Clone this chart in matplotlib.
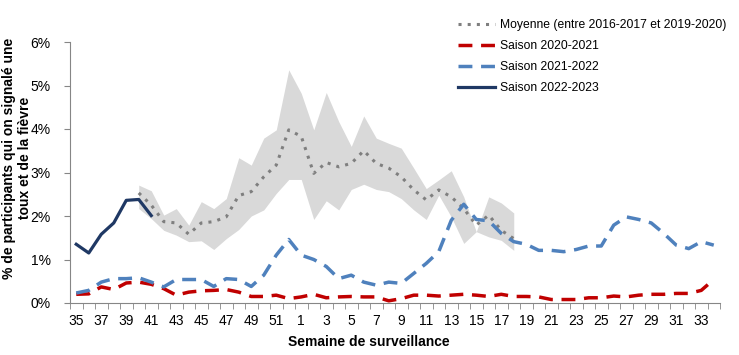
import matplotlib.pyplot as plt
from matplotlib.ticker import FuncFormatter

plt.rcParams['font.family'] = ['Liberation Sans', 'DejaVu Sans']

weeks = list(range(35, 53)) + list(range(1, 35))

s2022 = [1.35, 1.15, 1.58, 1.84, 2.36, 2.38, 2.01]

mean_weeks = list(range(40, 53)) + list(range(1, 19))
mean = [2.53, 2.25, 1.87, 1.84, 1.58, 1.84, 1.87, 1.98, 2.47, 2.56, 2.9, 3.17, 3.98,
        3.83, 2.98, 3.23, 3.13, 3.21, 3.5, 3.21, 3.1, 2.9, 2.6, 2.37, 2.6, 2.44,
        2.17, 1.79, 2.02, 1.67, 1.48]
upper = [2.71, 2.58, 2.02, 2.17, 1.79, 2.33, 2.17, 2.4, 3.34, 3.17, 3.79, 3.98, 5.36,
         4.82, 3.98, 4.84, 4.17, 3.6, 4.3, 3.79, 3.67, 3.56, 3.1, 2.63, 2.83, 3.04,
         2.44, 1.64, 2.44, 2.3, 2.07]
lower = [2.17, 1.94, 1.67, 1.56, 1.41, 1.43, 1.23, 1.48, 1.69, 2.0, 2.14, 2.52, 2.84,
         2.84, 1.92, 2.35, 2.14, 2.61, 2.73, 2.61, 2.56, 2.4, 2.14, 1.92, 2.48, 1.98,
         1.37, 1.64, 1.52, 1.44, 1.21]

s2021 = [0.23, 0.29, 0.48, 0.56, 0.56, 0.58, 0.48, 0.37, 0.54, 0.54, 0.54, 0.38, 0.56,
         0.54, 0.38, 0.64, 1.1, 1.46, 1.1, 1.0, 0.84, 0.56, 0.64, 0.48, 0.41, 0.48,
         0.45, 0.68, 0.91, 1.18, 1.9, 2.27, 1.92, 1.89, 1.6, 1.41, 1.35, 1.21, 1.21,
         1.18, 1.23, 1.31, 1.31, 1.79, 1.98, 1.92, 1.84, 1.6, 1.33, 1.25, 1.41, 1.33]

s2020 = [0.2, 0.21, 0.37, 0.31, 0.46, 0.48, 0.43, 0.33, 0.18, 0.25, 0.28, 0.29, 0.31,
         0.25, 0.15, 0.15, 0.18, 0.1, 0.14, 0.2, 0.12, 0.14, 0.15, 0.14, 0.14, 0.05,
         0.1, 0.18, 0.18, 0.16, 0.18, 0.2, 0.18, 0.15, 0.2, 0.15, 0.15, 0.14, 0.08,
         0.08, 0.08, 0.12, 0.12, 0.16, 0.14, 0.18, 0.2, 0.2, 0.22, 0.22, 0.29, 0.54]

x = list(range(len(weeks)))
mx = [weeks.index(w) if i < 13 else 18 + w - 1 for i, w in enumerate(mean_weeks)]

fig = plt.figure(figsize=(7.39, 3.55), dpi=100)
ax = fig.add_axes([70 / 739, 52 / 355, 650 / 739, 261 / 355])

ax.fill_between(mx, lower, upper, color='#d9d9d9', linewidth=0)
ax.plot(mx, mean, color='#7f7f7f', linestyle=(0, (1, 2)), linewidth=2.2,
        label='Moyenne (entre 2016-2017 et 2019-2020)')
ax.plot(x, s2020, color='#c00000', linestyle=(0, (4, 2.5)), linewidth=2.5,
        label='Saison 2020-2021')
ax.plot(x, s2021, color='#4f81bd', linestyle=(0, (4, 2.5)), linewidth=2.5,
        label='Saison 2021-2022')
ax.plot(x[:len(s2022)], s2022, color='#1f3864', linewidth=2.3,
        label='Saison 2022-2023')

ax.set_xlim(-0.5, len(weeks) - 0.5)
ax.set_ylim(0, 6)
ax.set_yticks(range(0, 7))
ax.yaxis.set_major_formatter(FuncFormatter(lambda v, p: f'{int(v)}%'))
ax.set_xticks(x[::2])
ax.set_xticklabels([str(w) for w in weeks[::2]])
ax.set_xticks([i - 0.5 for i in range(len(weeks) + 1)], minor=True)
ax.tick_params(axis='x', which='major', length=0, labelsize=10, pad=8)
ax.tick_params(axis='x', which='minor', length=4, color='#868686')
ax.tick_params(axis='y', length=4, color='#868686', labelsize=10, pad=10)

for s in ['top', 'right']:
    ax.spines[s].set_visible(False)
for s in ['left', 'bottom']:
    ax.spines[s].set_color('#868686')

fig.text(369 / 739, 1 - 342 / 355, 'Semaine de surveillance', fontsize=10,
         fontweight='bold', ha='center', va='center')
fig.text(17 / 739, 1 - 158 / 355,
         '% de participants qui on signalé une\ntoux et de la fièvre',
         fontsize=10, fontweight='bold', rotation=90, ha='center', va='center',
         multialignment='center', linespacing=1.15)

ax.legend(loc='upper left', bbox_to_anchor=(447 / 739, 347 / 355),
          bbox_transform=fig.transFigure, frameon=False, fontsize=8.7,
          handlelength=3.1, handletextpad=0.4, labelspacing=0.75)

fig.savefig('out.png', dpi=100)
